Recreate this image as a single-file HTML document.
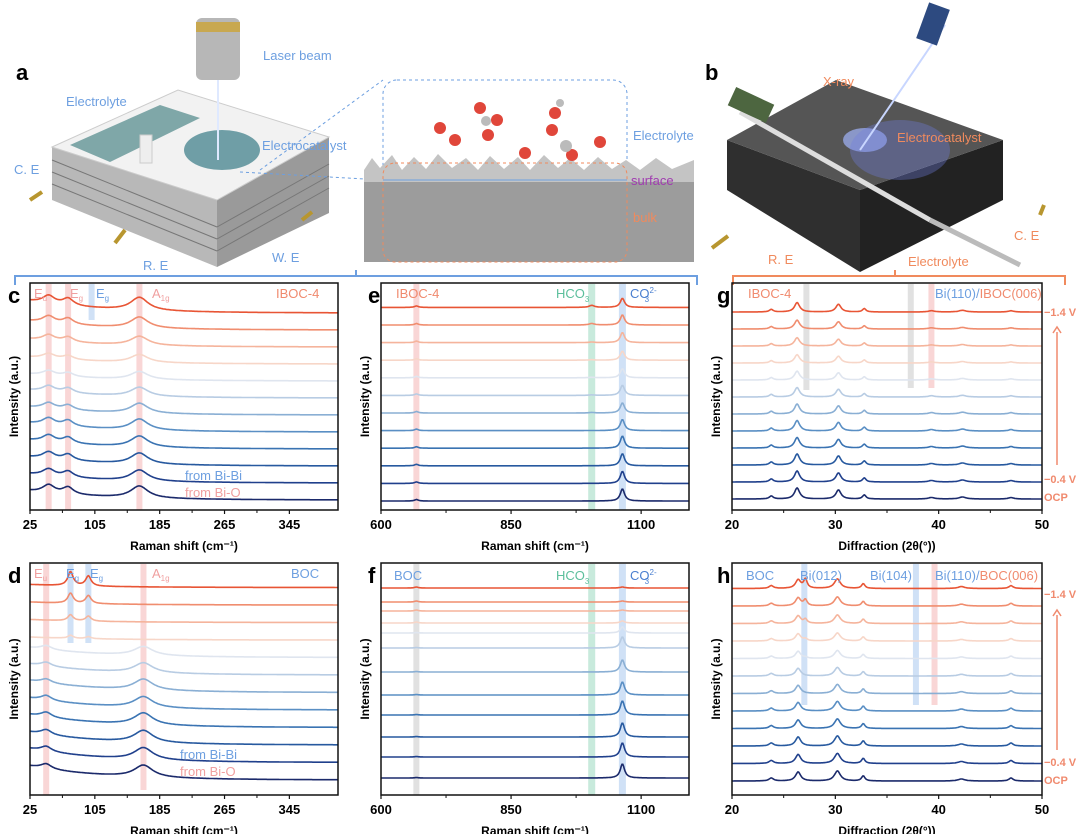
<!DOCTYPE html>
<html><head><meta charset="utf-8"><style>
html,body{margin:0;padding:0;background:#fff;}
svg{display:block;font-family:"Liberation Sans",Arial,sans-serif;}
</style></head><body>
<svg id="fig" width="1080" height="834" viewBox="0 0 1080 834">
<g>
  <text x="16" y="80" font-size="22" font-weight="bold">a</text>
  <polygon points="52,147 52,200 217,267 217,200" fill="#b8b8b8"/>
  <polygon points="217,200 329,137 329,213 217,267" fill="#9a9a9a"/>
  <g stroke="#777" stroke-width="1">
    <line x1="52" y1="160" x2="217" y2="227"/><line x1="52" y1="172" x2="217" y2="239"/><line x1="52" y1="184" x2="217" y2="251"/>
    <line x1="217" y1="227" x2="329" y2="164"/><line x1="217" y1="239" x2="329" y2="176"/><line x1="217" y1="251" x2="329" y2="188"/>
  </g>
  <polygon points="52,147 178,90 329,137 217,200" fill="#f2f2f2" stroke="#ccc"/>
  <polygon points="70,145 160,105 200,118 110,162" fill="#7fa7a8"/>
  <ellipse cx="222" cy="150" rx="38" ry="20" fill="#6f9ea6"/>
  <rect x="196" y="18" width="44" height="62" rx="6" fill="#b7b7b7"/>
  <rect x="196" y="22" width="44" height="10" fill="#c8a850"/>
  <line x1="218" y1="80" x2="218" y2="160" stroke="#dfe9ff" stroke-width="2"/>
  <rect x="140" y="135" width="12" height="28" fill="#eee" stroke="#ccc"/>
  <g stroke="#b8962f" stroke-width="4"><line x1="30" y1="200" x2="42" y2="192"/><line x1="115" y1="243" x2="125" y2="230"/><line x1="302" y1="220" x2="312" y2="212"/></g>
  <g font-size="13" fill="#6d9fe0">
    <text x="263" y="60">Laser beam</text>
    <text x="66" y="106">Electrolyte</text>
    <text x="262" y="150">Electrocatalyst</text>
    <text x="14" y="174">C. E</text>
    <text x="143" y="270">R. E</text>
    <text x="272" y="262">W. E</text>
  </g>
</g>
<g>
  <rect x="383" y="80" width="244" height="100" rx="14" fill="none" stroke="#6d9fe0" stroke-dasharray="3,3"/>
  <line x1="260" y1="170" x2="383" y2="80" stroke="#6d9fe0" stroke-dasharray="3,3"/>
  <line x1="240" y1="172" x2="383" y2="180" stroke="#6d9fe0" stroke-dasharray="3,3"/>
  <rect x="364" y="170" width="330" height="92" fill="#9c9c9c"/>
  <path d="M364,170 L372,158 L380,168 L392,155 L402,170 L414,157 L426,169 L438,154 L452,168 L466,158 L478,170 L490,156 L504,169 L518,157 L530,170 L544,155 L558,168 L570,158 L584,170 L598,157 L612,169 L626,160 L640,170 L656,158 L672,169 L694,160 L694,182 L364,182 Z" fill="#c4c4c4"/>
  <rect x="383" y="163" width="244" height="99" rx="12" fill="none" stroke="#f08a5d" stroke-dasharray="3,3"/>
  <line x1="383" y1="180" x2="627" y2="180" stroke="#6d9fe0"/>
  <g fill="#e0463a"><circle cx="440" cy="128" r="6"/><circle cx="455" cy="140" r="6"/><circle cx="480" cy="108" r="6"/><circle cx="488" cy="135" r="6"/><circle cx="497" cy="120" r="6"/><circle cx="555" cy="113" r="6"/><circle cx="552" cy="130" r="6"/><circle cx="572" cy="155" r="6"/><circle cx="525" cy="153" r="6"/><circle cx="600" cy="142" r="6"/></g>
  <g fill="#bbb"><circle cx="486" cy="121" r="5"/><circle cx="566" cy="146" r="6"/><circle cx="560" cy="103" r="4"/></g>
  <text x="633" y="140" font-size="13" fill="#6d9fe0">Electrolyte</text>
  <text x="631" y="185" font-size="13" fill="#a03cb0">surface</text>
  <text x="633" y="222" font-size="13" fill="#f08a5d">bulk</text>
</g>
<g>
  <text x="705" y="80" font-size="22" font-weight="bold">b</text>
  <polygon points="727,140 727,190 860,272 860,190" fill="#2f2f2f"/>
  <polygon points="860,190 1003,140 1003,200 860,272" fill="#222"/>
  <polygon points="727,140 836,80 1003,140 860,190" fill="#555"/>
  <line x1="740" y1="112" x2="930" y2="220" stroke="#ddd" stroke-width="5"/>
  <line x1="930" y1="220" x2="1020" y2="265" stroke="#bbb" stroke-width="5"/>
  <ellipse cx="865" cy="140" rx="22" ry="12" fill="#8a97c8"/>
  <ellipse cx="900" cy="150" rx="50" ry="30" fill="#6f7fe0" opacity="0.35"/>
  <line x1="860" y1="150" x2="945" y2="25" stroke="#c8d6ff" stroke-width="2"/>
  <rect x="922" y="5" width="22" height="38" fill="#2d4a80" transform="rotate(20 933 24)"/>
  <rect x="730" y="95" width="42" height="20" fill="#4d6640" transform="rotate(25 751 105)"/>
  <g stroke="#b8962f" stroke-width="4"><line x1="712" y1="248" x2="728" y2="236"/><line x1="1040" y1="215" x2="1044" y2="205"/></g>
  <g font-size="13" fill="#f08a5d">
    <text x="823" y="86">X-ray</text>
    <text x="897" y="142">Electrocatalyst</text>
    <text x="768" y="264">R. E</text>
    <text x="1014" y="240">C. E</text>
    <text x="908" y="266">Electrolyte</text>
  </g>
</g>
<path d="M15,285 V276 H697 V285 M356,276 V270" fill="none" stroke="#6d9fe0" stroke-width="2"/>
<path d="M733,285 V276 H1065 V285 M895,276 V270" fill="none" stroke="#f08a5d" stroke-width="2"/>
<g id="charts"></g>
</svg>
<script>
// ---------- data ----------
const colors = ['#1b2a6b','#20408c','#27599f','#3a73b2','#5a8fc4','#8aafd4','#b8cce3','#dfe5ef','#f7d6c8','#f5b49c','#f08d6f','#e85535'];
const curveIndex = [0,1,2,3,4,5,6,7,8,9,10,11];
// panel c (Raman IBOC-4)
const cTicks = [25,105,185,265,345];
const cCenters = [48,72,160];
const cWidths = [9,8,13];
const cH48 = [8,7,7,7,7,6,6,5,5,6,7,8];
const cH72 = [7,6,6,6,6,5,5,4,4,5,6,7];
const cH160 = [12,11,11,11,11,10,9,8,8,9,11,13];
const cBg = [9,9,9,9,9,8,8,7,7,8,9,12];
const cOffsets = [0,1,2,3,4,5,6,7,8,9,10,11];
// panel d (Raman BOC)
const dCenters = [45,75,97,165];
const dWidths = [8,4,4,14];
const dH45 = [5,5,5,5,5,4,4,4,0,0,0,0];
const dH75 = [0,0,0,0,0,0,0,0,3,6,10,14];
const dH97 = [0,0,0,0,0,0,0,0,2,5,8,10];
const dH165 = [12,12,12,12,11,11,10,9,0,0,0,0];
const dBg = [14,14,13,13,12,12,11,10,3,3,3,3];
const dOffsets = [0,1,2,3,4,5,6,7,8,9,10,11];
// panel e (Raman IBOC-4, high wavenumber)
const eTicks = [600,850,1100];
const eCenters = [668,1005,1064];
const eWidths = [4,6,5];
const eH668 = [1.5,1.5,1.5,1.5,1.5,1.5,1.5,1.5,1.5,1.5,1.5,1.5];
const eH1005 = [0,0,0,0,0,0.5,0.5,0.5,0.5,0.5,1.5,2];
const eH1064 = [12,12,12,12,11,10,10,9,9,10,10,9];
const eOffsets = [0,1,2,3,4,5,6,7,8,9,10,11];
// panel f (Raman BOC, high wavenumber)
const fCenters = [668,1064];
const fWidths = [4,5];
const fH668 = [0.5,0.5,0.5,0.5,0.5,0.5,0.5,0.5,1,1,1,1];
const fH1064 = [14,14,14,14,13,12,11,6,2,1,1,1];
const fOffsets = [0,21,41,63,83,106,130,145,155,167,176,190];
// panel g (XRD IBOC-4)
const gTicks = [20,30,40,50];
const gCenters = [23.8,26.3,30.3,32.8,39.3,42.3,47.0];
const gWidths = [0.22,0.3,0.3,0.2,0.35,0.4,0.3];
const gPeakH = [3,11,9,4,1.5,2,1.5];
const gScale = [1,1,1,0.95,0.95,0.9,0.85,0.8,0.75,0.75,0.8,0.85];
const gOffsets = [0,1,2,3,4,5,6,7,8,9,10,11];
// panel h (XRD BOC)
const hCenters = [23.8,26.4,27.1,30.2,32.7,42.2,47.0];
const hWidths = [0.25,0.3,0.2,0.35,0.2,0.4,0.25];
const hPeakH = [3,9,0,10,5,2,3];
const hH271 = [0,0,0,0,0,0,0,1,2,4,6,9];
const hScale = [1,1,1,0.95,0.95,0.9,0.85,0.8,0.8,0.85,0.9,0.95];
const hOffsets = [0,1,2,3,4,5,6,7,8,9,10,11];

// ---------- drawing ----------
const NS='http://www.w3.org/2000/svg';
const root=document.getElementById('charts');
function mk(tag,attrs,parent){const e=document.createElementNS(NS,tag);for(const k in attrs)e.setAttribute(k,attrs[k]);(parent||root).appendChild(e);return e;}
function txt(x,y,s,attrs,parent){const t=mk('text',Object.assign({x:x,y:y},attrs),parent);t.textContent=s;return t;}
function lor(x,c,w,h){const d=(x-c)/w;return h/(1+d*d);}

function panel(o){
  const g=mk('g',{});
  
  
  const xs=v=>o.x0+(v-o.min)/(o.max-o.min)*(o.x1-o.x0);
  o.bands.forEach(b=>{
    const r=mk('rect',{x:xs(b.c)-b.w/2,y:o.y0+1,width:b.w,height:(b.y2||o.y1)-o.y0-1,fill:b.col,opacity:b.op||0.55},g);
    
    
  });
  for(const i of curveIndex){
    const base=o.base-o.offsets[i]*o.step;
    let d='';
    for(let k=0;k<=400;k++){
      const v=o.min+(o.max-o.min)*k/400;
      const y=base-o.val(v,i);
      d+=(k?'L':'M')+xs(v).toFixed(1)+','+y.toFixed(1);
    }
    const p=mk('path',{d:d,fill:'none',stroke:colors[i],'stroke-width':1.6},g);
    
    
  }
  const f=mk('rect',{x:o.x0,y:o.y0,width:o.x1-o.x0,height:o.y1-o.y0,fill:'none',stroke:'#111','stroke-width':1.5},g);
  
  
  o.ticks.forEach((t,j)=>{
    const x=xs(t);
    mk('line',{x1:x,y1:o.y1,x2:x,y2:o.y1+4,stroke:'#111','stroke-width':1.2},g);
    const tl=txt(x,o.y1+19,String(t),{'font-size':13,'font-weight':'bold','text-anchor':'middle'},g);
    
    
    if(j<o.ticks.length-1){const xm=xs((t+o.ticks[j+1])/2);mk('line',{x1:xm,y1:o.y1,x2:xm,y2:o.y1+3,stroke:'#111'},g);}
  });
  const xt=txt((o.x0+o.x1)/2,o.y1+40,o.xtitle,{'font-size':12,'font-weight':'bold','text-anchor':'middle'},g);
  
  
  const yx=o.x0-12, yy=(o.y0+o.y1)/2;
  const yt=txt(yx,yy,'Intensity (a.u.)',{'font-size':12,'font-weight':'bold','text-anchor':'middle',transform:'rotate(-90 '+yx+' '+yy+')'},g);
  
  
  const pl=txt(o.lx,o.y0+20,o.letter,{'font-size':22,'font-weight':'bold'},g);
  
  
  (o.labels||[]).forEach(l=>{
    const t=mk('text',{x:l.x,y:l.y,'font-size':l.s||12,fill:l.c,'font-weight':l.b?'bold':'normal','text-anchor':l.a||'start'},g);
    t.innerHTML=l.t;
    
    
  });
  return g;
}
const PINK='#f4b5b5', BLUE='#a9c8ef', GREEN='#9ad8bf', GRAY='#c8c8c8';
const lp='#f0a0a0', lb='#6d9fe0', lg='#5cbf9c', lo='#f08a6e';
const co3='CO<tspan font-size="8" dy="-5">2-</tspan><tspan font-size="8" dx="-12" dy="9">3</tspan>';
const hco3='HCO<tspan font-size="8" dy="4">3</tspan>';

panel({name:'panel-c-raman-iboc',letter:'c',lx:8,x0:30,x1:338,y0:283,y1:510,min:25,max:405,ticks:cTicks,xtitle:'Raman shift (cm⁻¹)',
  base:500,step:17,offsets:cOffsets,
  val:(v,i)=>lor(v,cCenters[0],cWidths[0],cH48[i])+lor(v,cCenters[1],cWidths[1],cH72[i])+lor(v,cCenters[2],cWidths[2],cH160[i])+cBg[i]*Math.exp(-(v-25)/90),
  bands:[{c:48,w:6,col:PINK},{c:72,w:6,col:PINK},{c:160,w:6,col:PINK},{c:101,w:6,col:BLUE,y2:320}],
  labels:[{x:34,y:298,t:'E<tspan font-size="8" dy="3">u</tspan>',c:lp,s:13},{x:70,y:298,t:'E<tspan font-size="8" dy="3">g</tspan>',c:lp,s:13},{x:96,y:298,t:'E<tspan font-size="8" dy="3">g</tspan>',c:lb,s:13},{x:152,y:298,t:'A<tspan font-size="8" dy="3">1g</tspan>',c:lp,s:13},{x:276,y:298,t:'IBOC-4',c:lo,s:13},
    {x:185,y:480,t:'from Bi-Bi',c:lb,s:13},{x:185,y:497,t:'from Bi-O',c:lp,s:13}]});
panel({name:'panel-d-raman-boc',letter:'d',lx:8,x0:30,x1:338,y0:563,y1:795,min:25,max:405,ticks:cTicks,xtitle:'Raman shift (cm⁻¹)',
  base:780,step:17.5,offsets:dOffsets,
  val:(v,i)=>lor(v,dCenters[0],dWidths[0],dH45[i])+lor(v,dCenters[1],dWidths[1],dH75[i])+lor(v,dCenters[2],dWidths[2],dH97[i])+lor(v,dCenters[3],dWidths[3],dH165[i])+dBg[i]*Math.exp(-(v-25)/90),
  bands:[{c:45,w:6,col:PINK},{c:165,w:6,col:PINK,y2:790},{c:75,w:6,col:BLUE,y2:643},{c:97,w:6,col:BLUE,y2:643}],
  labels:[{x:34,y:578,t:'E<tspan font-size="8" dy="3">u</tspan>',c:lp,s:13},{x:66,y:578,t:'E<tspan font-size="8" dy="3">g</tspan>',c:lb,s:13},{x:90,y:578,t:'E<tspan font-size="8" dy="3">g</tspan>',c:lb,s:13},{x:152,y:578,t:'A<tspan font-size="8" dy="3">1g</tspan>',c:lp,s:13},{x:291,y:578,t:'BOC',c:lb,s:13},
    {x:180,y:759,t:'from Bi-Bi',c:lb,s:13},{x:180,y:776,t:'from Bi-O',c:lp,s:13}]});
panel({name:'panel-e-raman-iboc-high',letter:'e',lx:368,x0:381,x1:689,y0:283,y1:510,min:600,max:1192,ticks:eTicks,xtitle:'Raman shift (cm⁻¹)',
  base:501,step:17.6,offsets:eOffsets,
  val:(v,i)=>lor(v,eCenters[0],eWidths[0],eH668[i])+lor(v,eCenters[1],eWidths[1],eH1005[i])+lor(v,eCenters[2],eWidths[2],eH1064[i]),
  bands:[{c:668,w:6,col:PINK},{c:1005,w:7,col:GREEN},{c:1064,w:7,col:BLUE}],
  labels:[{x:396,y:298,t:'IBOC-4',c:lo,s:13},{x:556,y:298,t:hco3,c:lg,s:13},{x:630,y:298,t:co3,c:'#4a7fd0',s:13}]});
panel({name:'panel-f-raman-boc-high',letter:'f',lx:368,x0:381,x1:689,y0:563,y1:795,min:600,max:1192,ticks:eTicks,xtitle:'Raman shift (cm⁻¹)',
  base:778,step:1,offsets:fOffsets,
  val:(v,i)=>lor(v,fCenters[0],fWidths[0],fH668[i])+lor(v,fCenters[1],fWidths[1],fH1064[i]),
  bands:[{c:668,w:6,col:GRAY},{c:1005,w:7,col:GREEN},{c:1064,w:7,col:BLUE}],
  labels:[{x:394,y:580,t:'BOC',c:lb,s:13},{x:556,y:580,t:hco3,c:lg,s:13},{x:630,y:580,t:co3,c:'#4a7fd0',s:13}]});
panel({name:'panel-g-xrd-iboc',letter:'g',lx:717,x0:732,x1:1042,y0:283,y1:510,min:20,max:50,ticks:gTicks,xtitle:'Diffraction (2θ(°))',
  base:499,step:17,offsets:gOffsets,
  val:(v,i)=>{let s=0;for(let k=0;k<gCenters.length;k++)s+=lor(v,gCenters[k],gWidths[k],gPeakH[k]*gScale[i]);return s;},
  bands:[{c:27.2,w:6,col:GRAY,y2:390},{c:37.3,w:6,col:GRAY,y2:388},{c:39.3,w:6,col:PINK,y2:388}],
  labels:[{x:748,y:298,t:'IBOC-4',c:lo,s:13},{x:935,y:298,t:'Bi(110)/<tspan fill="'+lo+'">IBOC(006)</tspan>',c:lb,s:13}]});
panel({name:'panel-h-xrd-boc',letter:'h',lx:717,x0:732,x1:1042,y0:563,y1:795,min:20,max:50,ticks:gTicks,xtitle:'Diffraction (2θ(°))',
  base:781,step:17.5,offsets:hOffsets,
  val:(v,i)=>{let s=lor(v,hCenters[2],hWidths[2],hH271[i]);for(let k=0;k<hCenters.length;k++)if(k!==2)s+=lor(v,hCenters[k],hWidths[k],hPeakH[k]*hScale[i]);return s;},
  bands:[{c:27.0,w:6,col:BLUE,y2:705},{c:37.8,w:6,col:BLUE,y2:705},{c:39.6,w:6,col:PINK,y2:705}],
  labels:[{x:746,y:580,t:'BOC',c:lb,s:13},{x:800,y:580,t:'Bi(012)',c:lb,s:13},{x:870,y:580,t:'Bi(104)',c:lb,s:13},{x:935,y:580,t:'Bi(110)/<tspan fill="'+lo+'">BOC(006)</tspan>',c:lb,s:13}]});

[[316,483,501,465,327,'g'],[598,766,784,750,610,'h']].forEach(a=>{
  const g=mk('g',{});
  
  
  txt(1044,a[0],'−1.4 V',{'font-size':11,'font-weight':'bold',fill:lo},g);
  txt(1044,a[1],'−0.4 V',{'font-size':11,'font-weight':'bold',fill:lo},g);
  txt(1044,a[2],'OCP',{'font-size':11,'font-weight':'bold',fill:lo},g);
  mk('line',{x1:1057,y1:a[3],x2:1057,y2:a[4]+5,stroke:lo,'stroke-width':1.5},g);
  mk('path',{d:'M1053,'+(a[4]+6)+' L1057,'+a[4]+' L1061,'+(a[4]+6),fill:'none',stroke:lo,'stroke-width':1.5},g);
});
</script>
</body></html>
